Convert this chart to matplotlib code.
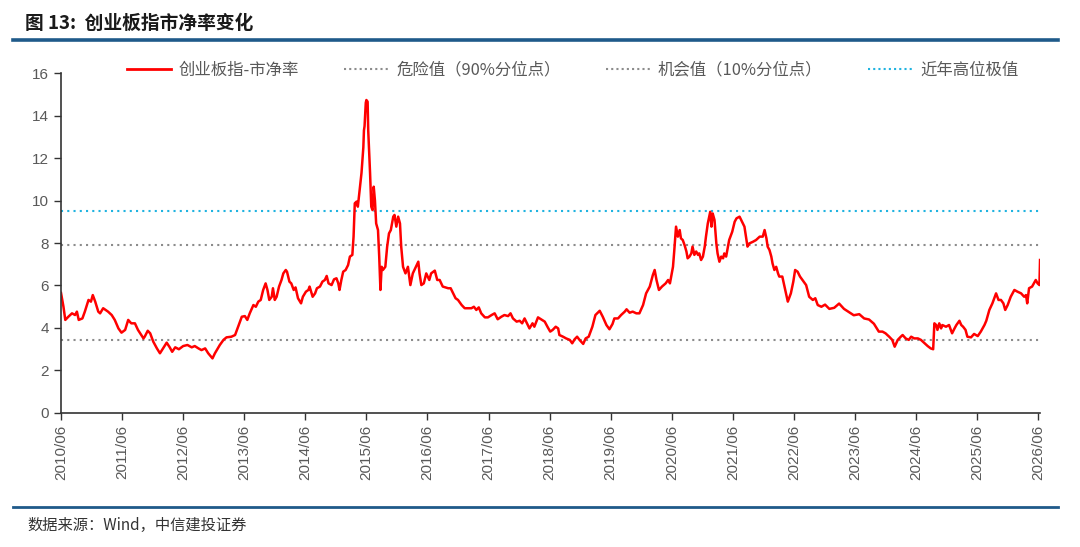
import matplotlib
matplotlib.use("Agg")
import matplotlib.pyplot as plt
from matplotlib.lines import Line2D

plt.rcParams['font.family'] = ['Noto Sans CJK SC', 'DejaVu Sans']
plt.rcParams['axes.unicode_minus'] = False

# 日期（小数年份）与市净率
years = [
    2010.50, 2010.54, 2010.57, 2010.62, 2010.68, 2010.73, 2010.76, 2010.79, 2010.85, 2010.89,
    2010.95, 2010.99, 2011.02, 2011.06, 2011.11, 2011.14, 2011.19, 2011.27, 2011.33, 2011.38,
    2011.44, 2011.49, 2011.55, 2011.60, 2011.65, 2011.71, 2011.76, 2011.85, 2011.87, 2011.92,
    2011.96, 2012.01, 2012.07, 2012.12, 2012.17, 2012.23, 2012.28, 2012.32, 2012.37, 2012.43,
    2012.50, 2012.57, 2012.64, 2012.69, 2012.75, 2012.80, 2012.86, 2012.91, 2012.98, 2013.02,
    2013.10, 2013.16, 2013.21, 2013.29, 2013.35, 2013.40, 2013.46, 2013.51, 2013.55, 2013.59,
    2013.65, 2013.69, 2013.73, 2013.77, 2013.81, 2013.85, 2013.88, 2013.91, 2013.95, 2013.97,
    2014.00, 2014.03, 2014.07, 2014.11, 2014.14, 2014.18, 2014.20, 2014.24, 2014.27, 2014.31,
    2014.34, 2014.38, 2014.43, 2014.46, 2014.51, 2014.55, 2014.57, 2014.62, 2014.66, 2014.69,
    2014.74, 2014.78, 2014.82, 2014.85, 2014.88, 2014.93, 2014.97, 2015.01, 2015.04, 2015.06,
    2015.09, 2015.12, 2015.16, 2015.20, 2015.23, 2015.27, 2015.29, 2015.31, 2015.34, 2015.36,
    2015.39, 2015.42, 2015.45, 2015.46, 2015.47, 2015.49, 2015.50, 2015.52, 2015.53, 2015.56,
    2015.58, 2015.60, 2015.62, 2015.64, 2015.66, 2015.69, 2015.71, 2015.73, 2015.75, 2015.77,
    2015.81, 2015.84, 2015.87, 2015.90, 2015.94, 2015.96, 2015.99, 2016.02, 2016.05, 2016.07,
    2016.10, 2016.14, 2016.18, 2016.22, 2016.26, 2016.31, 2016.35, 2016.37, 2016.40, 2016.44,
    2016.48, 2016.53, 2016.56, 2016.62, 2016.66, 2016.70, 2016.75, 2016.84, 2016.88, 2016.92,
    2016.96, 2017.00, 2017.06, 2017.11, 2017.16, 2017.22, 2017.26, 2017.30, 2017.34, 2017.38,
    2017.44, 2017.49, 2017.55, 2017.60, 2017.65, 2017.71, 2017.76, 2017.82, 2017.86, 2017.90,
    2017.96, 2018.01, 2018.05, 2018.09, 2018.13, 2018.17, 2018.22, 2018.25, 2018.31, 2018.36,
    2018.42, 2018.47, 2018.51, 2018.55, 2018.60, 2018.64, 2018.66, 2018.72, 2018.77, 2018.83,
    2018.87, 2018.91, 2018.95, 2018.99, 2019.05, 2019.09, 2019.14, 2019.20, 2019.25, 2019.32,
    2019.37, 2019.43, 2019.48, 2019.53, 2019.56, 2019.62, 2019.67, 2019.73, 2019.76, 2019.81,
    2019.86, 2019.92, 2019.97, 2020.03, 2020.08, 2020.14, 2020.19, 2020.22, 2020.25, 2020.29,
    2020.34, 2020.40, 2020.44, 2020.47, 2020.52, 2020.54, 2020.57, 2020.60, 2020.63, 2020.65,
    2020.68, 2020.71, 2020.74, 2020.76, 2020.79, 2020.82, 2020.84, 2020.87, 2020.90, 2020.93,
    2020.95, 2020.98, 2021.01, 2021.04, 2021.06, 2021.09, 2021.12, 2021.13, 2021.15, 2021.17,
    2021.20, 2021.23, 2021.25, 2021.28, 2021.31, 2021.34, 2021.36, 2021.39, 2021.42, 2021.44,
    2021.49, 2021.53, 2021.56, 2021.61, 2021.65, 2021.69, 2021.72, 2021.74, 2021.77, 2021.83,
    2021.88, 2021.94, 2021.99, 2022.02, 2022.05, 2022.07, 2022.10, 2022.13, 2022.15, 2022.18,
    2022.21, 2022.24, 2022.26, 2022.31, 2022.34, 2022.37, 2022.40, 2022.43, 2022.45, 2022.49,
    2022.52, 2022.56, 2022.60, 2022.64, 2022.70, 2022.75, 2022.81, 2022.85, 2022.89, 2022.95,
    2023.01, 2023.08, 2023.16, 2023.24, 2023.32, 2023.40, 2023.48, 2023.57, 2023.65, 2023.73,
    2023.81, 2023.89, 2023.95, 2024.00, 2024.06, 2024.11, 2024.15, 2024.20, 2024.25, 2024.28,
    2024.33, 2024.38, 2024.42, 2024.47, 2024.53, 2024.58, 2024.64, 2024.69, 2024.74, 2024.78,
    2024.80, 2024.83, 2024.85, 2024.88, 2024.91, 2024.93, 2024.99, 2025.04, 2025.09, 2025.13,
    2025.16, 2025.21, 2025.24, 2025.27, 2025.31, 2025.34, 2025.40, 2025.45, 2025.51, 2025.56,
    2025.62, 2025.65, 2025.70, 2025.75, 2025.81, 2025.85, 2025.89, 2025.93, 2025.96, 2026.00,
    2026.05, 2026.11, 2026.16, 2026.22, 2026.27, 2026.30, 2026.32, 2026.35, 2026.40, 2026.46,
    2026.49, 2026.52, 2026.53,
]
pb = [
    5.65, 5.00, 4.38, 4.53, 4.69, 4.61, 4.77, 4.38, 4.45, 4.77,
    5.32, 5.24, 5.55, 5.24, 4.77, 4.69, 4.93, 4.77, 4.61, 4.38,
    3.98, 3.78, 3.91, 4.38, 4.22, 4.22, 3.91, 3.51, 3.59, 3.87,
    3.75, 3.36, 3.04, 2.81, 3.04, 3.31, 3.09, 2.88, 3.09, 3.00,
    3.15, 3.20, 3.09, 3.15, 3.04, 2.96, 3.04, 2.81, 2.57, 2.81,
    3.20, 3.44, 3.56, 3.59, 3.67, 4.06, 4.53, 4.56, 4.38, 4.69,
    5.08, 5.00, 5.24, 5.32, 5.79, 6.10, 5.79, 5.32, 5.47, 5.87,
    5.32, 5.47, 5.95, 6.26, 6.57, 6.73, 6.65, 6.18, 6.10, 5.79,
    5.91, 5.40, 5.16, 5.47, 5.71, 5.79, 5.95, 5.47, 5.63, 5.87,
    5.95, 6.18, 6.26, 6.45, 6.10, 6.02, 6.29, 6.34, 6.10, 5.79,
    6.26, 6.65, 6.73, 6.96, 7.36, 7.44, 8.30, 9.87, 9.95, 9.71,
    10.50, 11.30, 12.50, 13.30, 13.50, 14.60, 14.73, 14.65, 13.30, 11.30,
    9.71, 9.55, 10.65, 10.00, 8.92, 8.61, 7.36, 5.79, 6.88, 6.73,
    6.88, 7.83, 8.45, 8.61, 9.24, 9.32, 8.77, 9.24, 8.92, 7.83,
    6.88, 6.57, 6.88, 6.02, 6.57, 6.88, 7.12, 6.57, 6.02, 6.10,
    6.57, 6.26, 6.57, 6.70, 6.26, 6.26, 5.95, 5.87, 5.87, 5.63,
    5.40, 5.32, 5.08, 4.93, 4.93, 4.93, 5.00, 4.85, 4.97, 4.69,
    4.50, 4.50, 4.61, 4.69, 4.41, 4.53, 4.61, 4.56, 4.69, 4.45,
    4.30, 4.34, 4.22, 4.45, 4.22, 3.98, 4.22, 4.06, 4.50, 4.41,
    4.30, 4.03, 3.83, 3.91, 4.06, 3.98, 3.67, 3.59, 3.51, 3.44,
    3.28, 3.47, 3.59, 3.44, 3.25, 3.51, 3.59, 4.06, 4.61, 4.81,
    4.53, 4.14, 3.94, 4.19, 4.45, 4.45, 4.61, 4.77, 4.88, 4.72,
    4.77, 4.69, 4.69, 5.08, 5.63, 5.95, 6.49, 6.73, 6.26, 5.79,
    5.95, 6.10, 6.26, 6.10, 6.88, 7.60, 8.77, 8.30, 8.61, 8.22,
    8.14, 7.90, 7.60, 7.28, 7.36, 7.51, 7.83, 7.44, 7.60, 7.44,
    7.51, 7.20, 7.36, 7.83, 8.30, 8.92, 9.32, 9.47, 8.77, 9.39,
    9.08, 7.98, 7.51, 7.12, 7.36, 7.28, 7.51, 7.36, 7.83, 8.14,
    8.53, 9.00, 9.16, 9.24, 9.00, 8.77, 8.22, 7.83, 7.98, 8.06,
    8.14, 8.30, 8.30, 8.61, 8.22, 7.83, 7.67, 7.36, 7.04, 6.73,
    6.88, 6.57, 6.42, 6.42, 6.02, 5.63, 5.24, 5.47, 5.63, 6.18,
    6.73, 6.65, 6.42, 6.26, 6.02, 5.47, 5.32, 5.40, 5.08, 5.00,
    5.10, 4.90, 4.95, 5.15, 4.90, 4.75, 4.60, 4.65, 4.45, 4.40,
    4.20, 3.83, 3.83, 3.75, 3.59, 3.44, 3.12, 3.44, 3.59, 3.67,
    3.51, 3.44, 3.59, 3.51, 3.51, 3.44, 3.28, 3.15, 3.04, 3.00,
    4.22, 4.14, 3.91, 4.22, 3.98, 4.14, 4.06, 4.14, 3.75, 3.98,
    4.14, 4.34, 4.14, 4.06, 3.91, 3.59, 3.56, 3.72, 3.62, 3.83,
    4.14, 4.34, 4.85, 5.16, 5.63, 5.32, 5.32, 5.16, 4.85, 5.08,
    5.47, 5.79, 5.71, 5.63, 5.47, 5.55, 5.16, 5.87, 5.95, 6.26,
    6.10, 6.02, 7.20,
]

danger = 7.9
chance = 3.42
recent_high = 9.52

tick_years = list(range(2010, 2027))
tick_labels = [f"{y}/06" for y in tick_years]

series_names = ['创业板指-市净率', '危险值（90%分位点）', '机会值（10%分位点）', '近年高位极值']

fig = plt.figure(figsize=(10.8, 5.47), dpi=100)
ax = fig.add_axes([0.0565, 0.245, 0.9065, 0.6215])

ax.axhline(recent_high, color='#1fb3e0', ls=(0, (1, 2)), lw=1.5)
ax.axhline(danger, color='#8c8c8c', ls=(0, (1, 2)), lw=1.5)
ax.axhline(chance, color='#8c8c8c', ls=(0, (1, 2)), lw=1.5)
ax.plot(years, pb, color='#ff0000', lw=1.8, solid_joinstyle='round')

ax.set_xlim(2010.5, 2026.53)
ax.set_ylim(0, 16)
ax.set_xticks([y + 0.5 for y in tick_years])
ax.set_xticklabels(tick_labels, rotation=90, fontsize=11, color='#595959',
                   family='Liberation Sans')
ax.set_yticks(range(0, 17, 2))
ax.set_yticklabels([str(v) for v in range(0, 17, 2)], fontsize=11, color='#595959',
                   family='Liberation Sans')
ax.tick_params(axis='both', direction='out', length=5, width=1, color='#333333')
for s in ['top', 'right']:
    ax.spines[s].set_visible(False)
for s in ['left', 'bottom']:
    ax.spines[s].set_color('#333333')
    ax.spines[s].set_linewidth(1.2)

handles = [
    Line2D([], [], color='#ff0000', lw=2),
    Line2D([], [], color='#8c8c8c', ls=(0, (1, 1.5)), lw=1.5),
    Line2D([], [], color='#8c8c8c', ls=(0, (1, 1.5)), lw=1.5),
    Line2D([], [], color='#1fb3e0', ls=(0, (1, 1.5)), lw=1.5),
]
leg = fig.legend(handles, series_names, loc='center', bbox_to_anchor=(0.53, 0.872),
                 ncol=4, frameon=False, fontsize=11.8, handlelength=2.7,
                 columnspacing=2.8, handletextpad=0.45)
for t in leg.get_texts():
    t.set_color('#595959')

# 标题与页脚
fig.text(0.023, 0.958, '图 13:  创业板指市净率变化', fontsize=13.5, fontweight='bold',
         color='#1a1a1a', va='center', ha='left')
fig.add_artist(Line2D([0.012, 0.98], [0.926, 0.926], color='#1f5a8a', lw=2.6,
                      transform=fig.transFigure))
fig.add_artist(Line2D([0.012, 0.98], [0.073, 0.073], color='#1f5a8a', lw=2,
                      transform=fig.transFigure))
fig.text(0.025, 0.04, '数据来源：Wind，中信建投证券', fontsize=11, style='italic',
         color='#333333', va='center', ha='left')

fig.savefig('out.png', dpi=100)
